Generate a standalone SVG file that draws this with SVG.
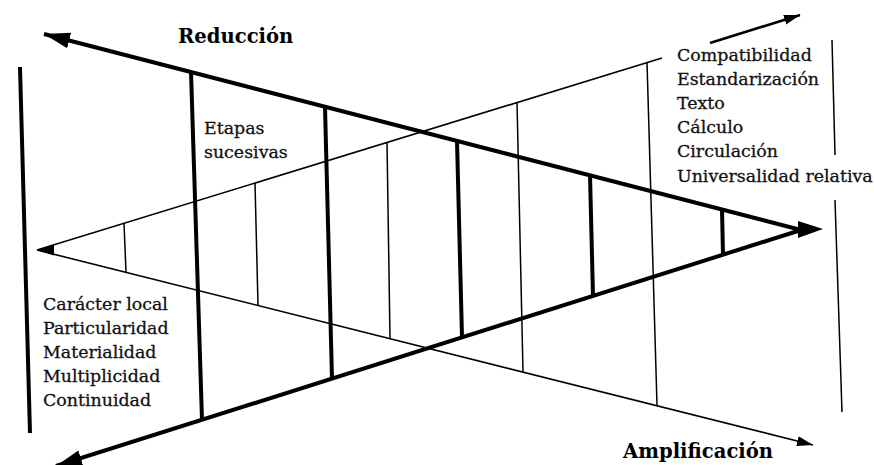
<svg xmlns="http://www.w3.org/2000/svg" width="874" height="465" viewBox="0 0 874 465">
<style>
.bg{fill:#fff}
.thick{stroke:#000;stroke-width:4;fill:none;stroke-linecap:butt}
.thin{stroke:#000;stroke-width:1.6;fill:none}
.vthick{stroke:#000;stroke-width:4}
.vthin{stroke:#000;stroke-width:1.5}
.head{fill:#000}
.lbl{font-family:"DejaVu Serif","Liberation Serif",serif;font-size:17.4px;fill:#111;stroke:#111;stroke-width:0.3}
.ttl{font-family:"DejaVu Serif","Liberation Serif",serif;font-size:19.6px;font-weight:bold;fill:#000}
</style>
<defs>
<marker id="bigHead" markerUnits="userSpaceOnUse" markerWidth="28" markerHeight="18" viewBox="0 0 28 18" refX="26" refY="9" orient="auto">
<path d="M0,1 L26,9 L0,17 z" fill="#000"/>
</marker>
<marker id="smallHead" markerUnits="userSpaceOnUse" markerWidth="18" markerHeight="12" viewBox="0 0 18 12" refX="16" refY="6" orient="auto">
<path d="M0,1 L16,6 L0,11 z" fill="#000"/>
</marker>
</defs>
<rect class="bg" x="0" y="0" width="874" height="465"/>

<g id="connectors">
<!-- Reducción (thick) triangle -->
<line class="thick" x1="801" y1="230" x2="44" y2="34" marker-end="url(#bigHead)"/>
<line class="thick" x1="801" y1="230" x2="56" y2="466" marker-end="url(#bigHead)"/>
<polygon class="head" points="823,229 798,221 798,238"/>
<!-- Amplificación (thin) triangle -->
<line class="thin" x1="37" y1="250" x2="662" y2="58"/>
<line x1="710" y1="43" x2="800" y2="15" stroke="#000" stroke-width="2.6" marker-end="url(#smallHead)"/>
<line class="thin" x1="37" y1="250" x2="813" y2="445" marker-end="url(#smallHead)"/>
<polygon class="head" points="37,250 54,244.5 54,255.5"/>
<!-- thick stage verticals -->
<line class="vthick" x1="191" y1="72" x2="202" y2="420"/>
<line class="vthick" x1="325" y1="107" x2="332" y2="379"/>
<line class="vthick" x1="457" y1="141" x2="462" y2="337"/>
<line class="vthick" x1="590" y1="175" x2="593" y2="296"/>
<line class="vthick" x1="722" y1="209" x2="723" y2="255"/>
<!-- thin stage verticals -->
<line class="vthin" x1="124" y1="223" x2="126" y2="272"/>
<line class="vthin" x1="255" y1="183" x2="258" y2="305"/>
<line class="vthin" x1="387" y1="142" x2="390" y2="338"/>
<line class="vthin" x1="517" y1="102" x2="523" y2="372"/>
<line class="vthin" x1="647" y1="62" x2="657" y2="405"/>
<!-- boundary lines -->
<line class="vthick" x1="20" y1="67" x2="30" y2="433"/>
<line class="vthin" x1="832" y1="40" x2="835" y2="155"/>
<line class="vthin" x1="835" y1="200" x2="842" y2="412"/>
</g>

<g id="reduccion">
<text class="ttl" x="178" y="43">Reducción</text>
</g>
<g id="amplificacion">
<text class="ttl" x="623" y="458">Amplificación</text>
</g>
<g id="etapas">
<text class="lbl" x="204" y="134">Etapas</text>
<text class="lbl" x="204" y="158">sucesivas</text>
</g>
<g id="lista-derecha">
<text class="lbl" x="677" y="61">Compatibilidad</text>
<text class="lbl" x="677" y="85">Estandarización</text>
<text class="lbl" x="677" y="109">Texto</text>
<text class="lbl" x="677" y="133">Cálculo</text>
<text class="lbl" x="677" y="157">Circulación</text>
<text class="lbl" x="677" y="182">Universalidad relativa</text>
</g>
<g id="lista-izquierda">
<text class="lbl" x="43" y="310">Carácter local</text>
<text class="lbl" x="43" y="334">Particularidad</text>
<text class="lbl" x="43" y="358">Materialidad</text>
<text class="lbl" x="43" y="382">Multiplicidad</text>
<text class="lbl" x="43" y="406">Continuidad</text>
</g>
</svg>
